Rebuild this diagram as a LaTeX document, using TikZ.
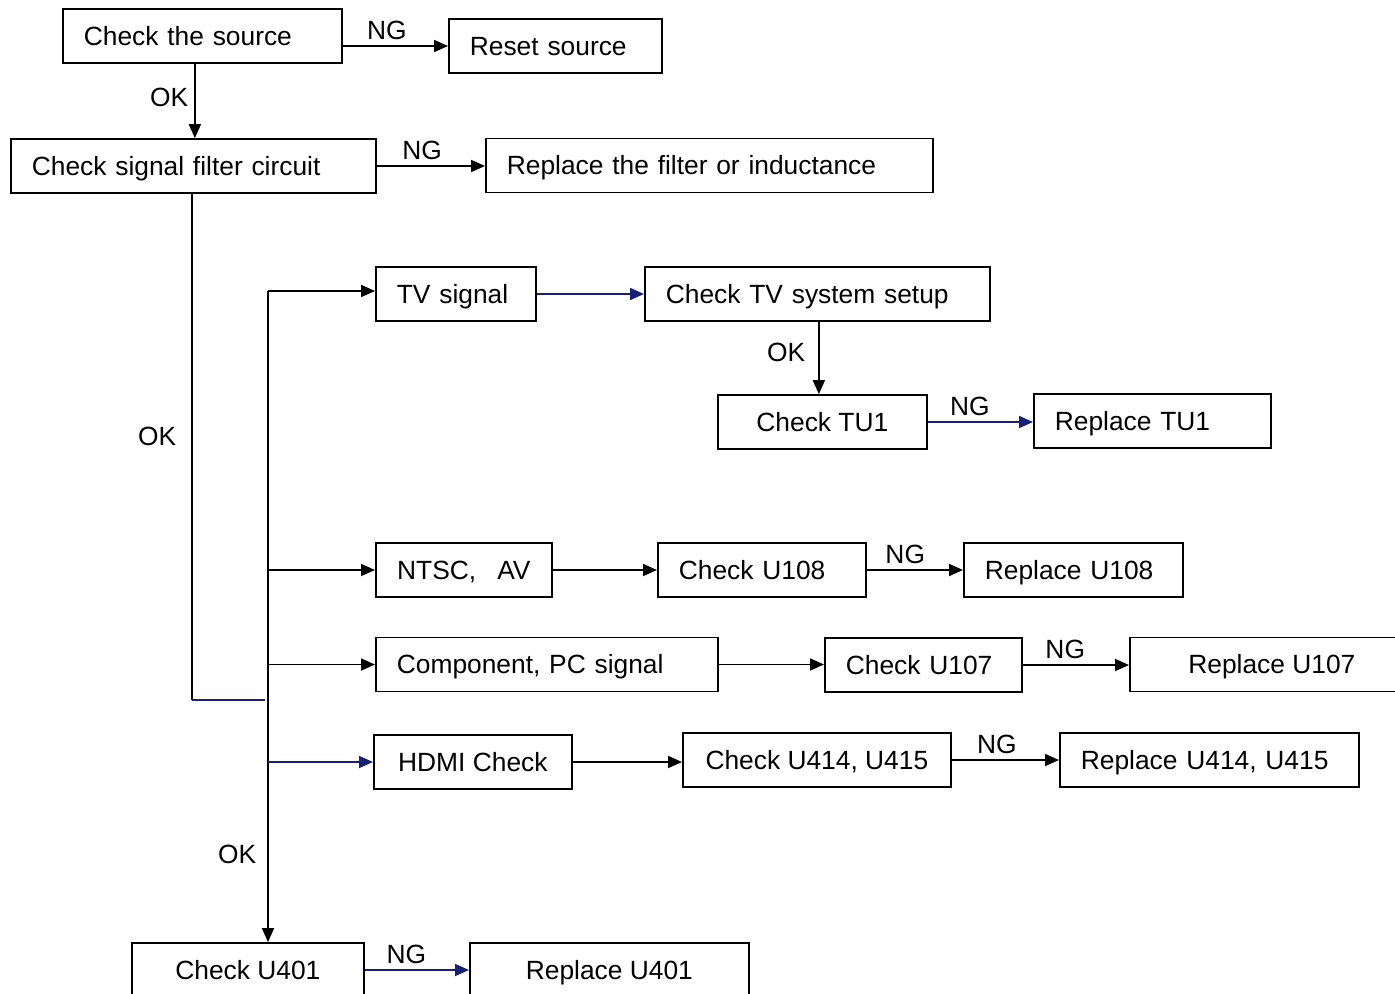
\documentclass[tikz,border=0pt]{standalone}
\usepackage{fontspec}
\setmainfont{Liberation Sans}
\usepackage{xcolor}
\usetikzlibrary{arrows.meta}
\definecolor{navy}{RGB}{22,32,120}

\begin{document}
\begin{tikzpicture}[>={Triangle[length=0.28cm,width=0.24cm]}, line width=1pt,
  font=\fontsize{15}{18}\selectfont,
  box/.style={draw, anchor=west, align=left, inner xsep=0.42cm, minimum height=1.08cm,
    text height=10.7pt, text depth=0pt},
  cbox/.style={draw, anchor=west, align=center, inner xsep=0pt, minimum height=1.08cm,
    text height=10.7pt, text depth=0pt},
  lbl/.style={text=black}]
\path[use as bounding box] (0,0) rectangle (27.9,-19.88);
\node[box, text width=4.74cm] (src) at (1.24,-0.72) {Check the source};
\node[box, text width=3.42cm] (reset) at (8.96,-0.92) {Reset source};
\node[box, text width=6.46cm] (filt) at (0.20,-3.32) {Check signal filter circuit};
\node[box, text width=8.10cm] (rfilt) at (9.70,-3.31) {Replace the filter or inductance};
\node[box, text width=2.36cm] (tv) at (7.50,-5.88) {TV signal};
\node[box, text width=6.06cm] (tvsys) at (12.88,-5.88) {Check TV system setup};
\node[cbox, minimum width=4.18cm] (tu1) at (14.34,-8.44) {Check TU1};
\node[box, text width=3.90cm] (rtu1) at (20.66,-8.42) {Replace TU1};
\node[cbox, minimum width=3.52cm] (ntsc) at (7.50,-11.40) {NTSC,\hspace{0.8em}AV};
\node[box, text width=3.32cm] (u108) at (13.14,-11.40) {Check U108};
\node[box, text width=3.54cm] (r108) at (19.26,-11.40) {Replace U108};
\node[box, text width=6.00cm] (comp) at (7.50,-13.29) {Component, PC signal};
\node[box, text width=3.10cm] (u107) at (16.48,-13.30) {Check U107};
\node[cbox, minimum width=5.68cm] (r107) at (22.58,-13.29) {Replace U107};
\node[cbox, minimum width=3.96cm] (hdmi) at (7.46,-15.24) {HDMI Check};
\node[cbox, minimum width=5.36cm] (u414) at (13.64,-15.20) {Check U414, U415};
\node[box, text width=5.14cm] (r414) at (21.18,-15.20) {Replace U414, U415};
\node[cbox, minimum width=4.64cm] (u401) at (2.62,-19.40) {Check U401};
\node[cbox, minimum width=5.58cm] (r401) at (9.38,-19.40) {Replace U401};
% trunk and joins
\coordinate (tk) at (5.36,-5.82);
\coordinate (jn) at (3.84,-14.00);
\coordinate (jn2) at (5.30,-14.00);
% top part
\draw[->] (src.east |- reset.west) -- node[above, pos=0.42]{NG} (reset.west);
\draw[->] ([xshift=-0.15cm]src.south) -- node[left, pos=0.45]{OK} ([xshift=-0.15cm]src.south |- filt.north);
\draw[->] (filt.east) -- node[above, pos=0.42]{NG} (filt.east -| rfilt.west);
\draw (filt.south -| jn) -- node[left, pos=0.48, xshift=-0.18cm]{OK} (jn);
\draw[navy] (jn) -- (jn2);
% branches
\draw[->] (tk) -- node[left, pos=0.865, xshift=-0.1cm]{OK} (tk |- u401.north);
\draw[->] (tk) -- (tk -| tv.west);
\draw[->] (tk |- ntsc.west) -- (ntsc.west);
\draw[->] (tk |- comp.west) -- (comp.west);
\draw[->, navy] (tk |- hdmi.west) -- (hdmi.west);
\draw[->, navy] (tv.east) -- (tv.east -| tvsys.west);
\draw[->] ([xshift=-0.07cm]tvsys.south -| tu1.north) -- node[left, pos=0.42, xshift=-0.14cm]{OK} ([xshift=-0.07cm]tu1.north);
\draw[->, navy] (tu1.east) -- node[above, lbl, pos=0.4]{NG} (tu1.east -| rtu1.west);
\draw[->] (ntsc.east) -- (ntsc.east -| u108.west);
\draw[->] (u108.east) -- node[above, pos=0.4]{NG} (u108.east -| r108.west);
\draw[->] (comp.east) -- (comp.east -| u107.west);
\draw[->] (u107.east) -- node[above, pos=0.4]{NG} (u107.east -| r107.west);
\draw[->] (hdmi.east) -- (hdmi.east -| u414.west);
\draw[->] (u414.east) -- node[above, pos=0.42]{NG} (u414.east -| r414.west);
\draw[->, navy] (u401.east) -- node[above, lbl, pos=0.4]{NG} (u401.east -| r401.west);
\end{tikzpicture}
\end{document}
